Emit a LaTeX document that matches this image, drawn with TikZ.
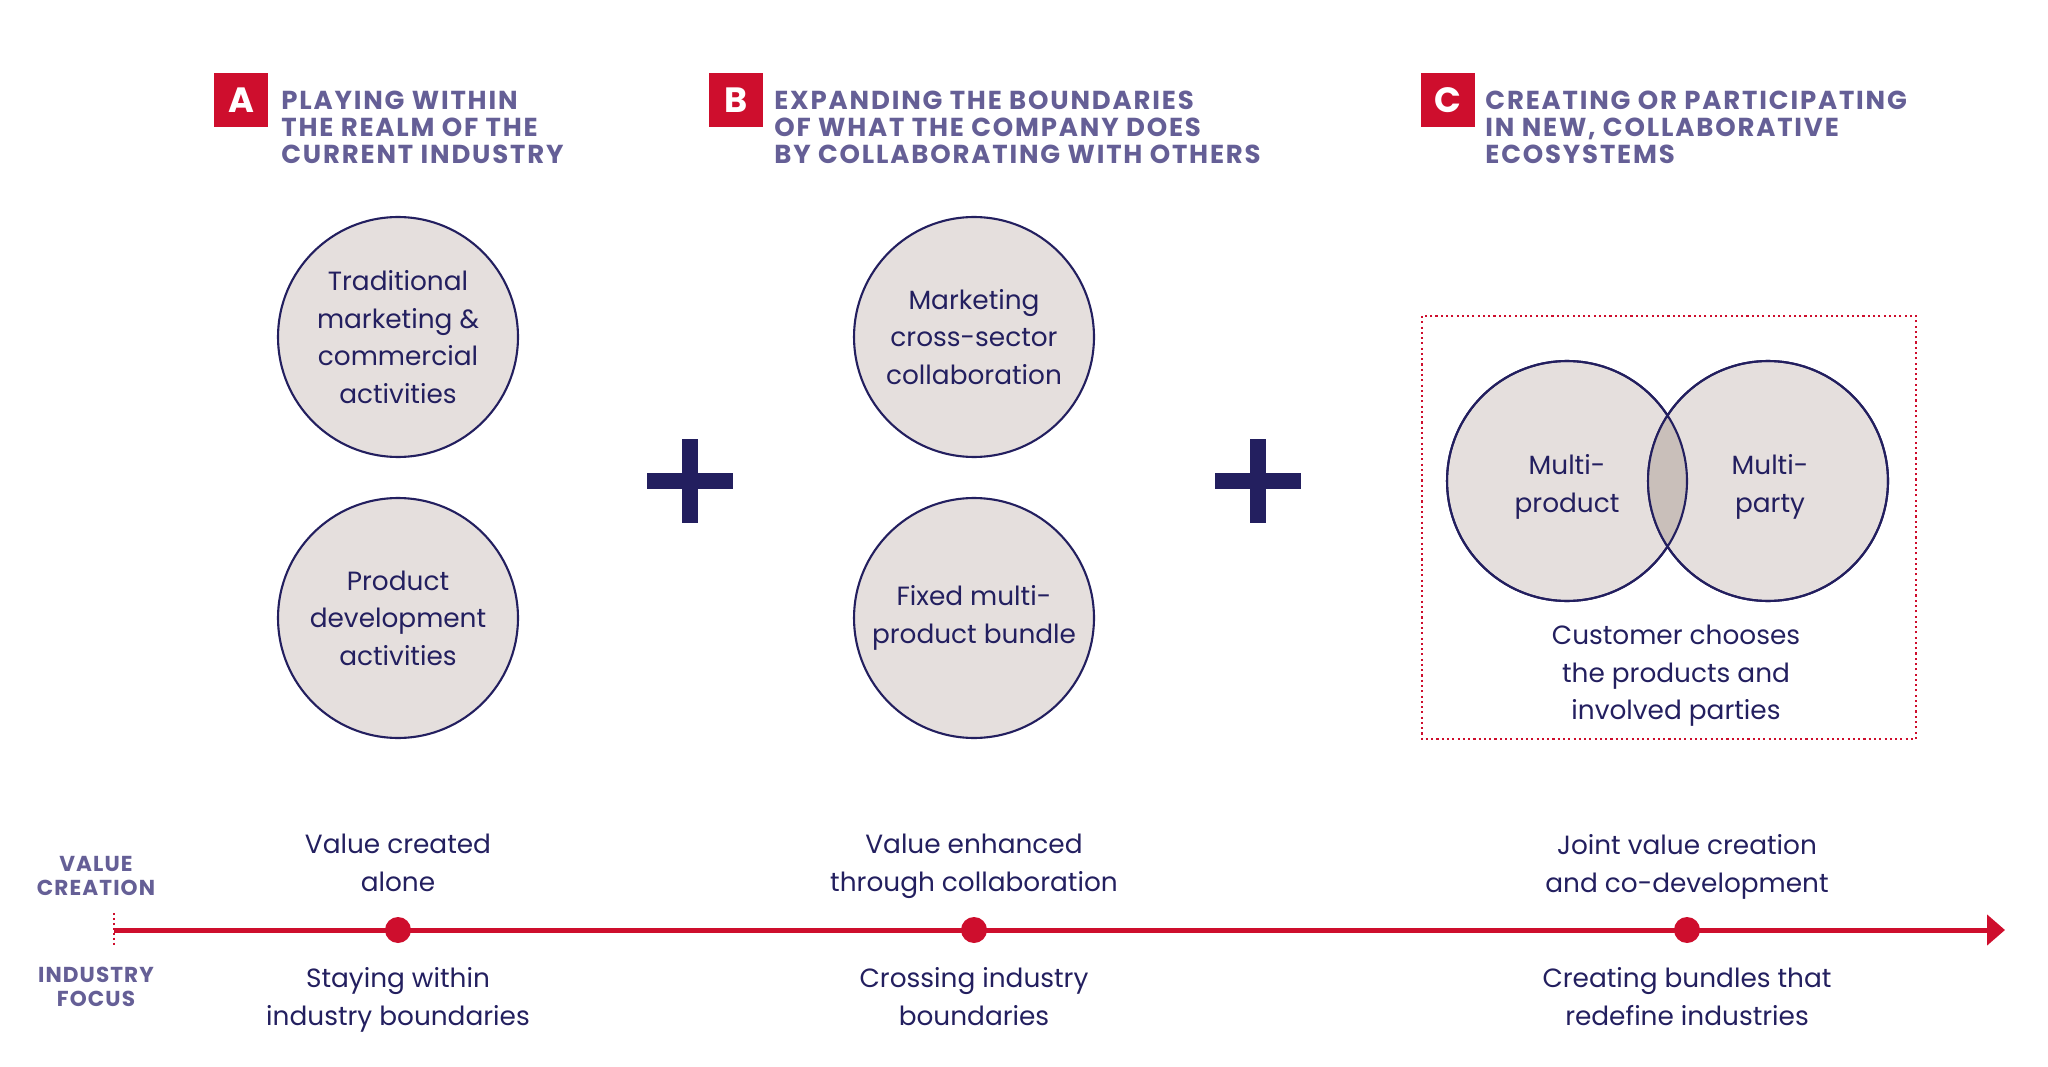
\documentclass[tikz,border=0pt]{standalone}
\usepackage{fontspec}
\setmainfont{Poppins}
\usetikzlibrary{arrows.meta,positioning}

\definecolor{navy}{HTML}{231F5F}
\definecolor{headpurple}{HTML}{655F96}
\definecolor{bubblefill}{HTML}{E5DFDD}
\definecolor{overlapfill}{HTML}{C9BFBA}
\definecolor{accent}{HTML}{CE0E2D}

\newcommand{\txtbody}{\fontsize{15}{21.4}\selectfont}
\newcommand{\txthead}{\fontsize{14.8}{15.2}\selectfont\bfseries\addfontfeatures{LetterSpace=7}}
\newcommand{\txtaxis}{\fontsize{12.3}{13.7}\selectfont\bfseries\addfontfeatures{LetterSpace=5}}

\tikzset{
  bubble/.style={circle, draw=navy, line width=1.2pt, fill=bubblefill,
    minimum size=4.8cm, inner sep=0pt, align=center, text=navy, font=\txtbody},
  letterbox/.style={fill=accent, text=white, minimum size=1.08cm, inner sep=0pt,
    font=\fontsize{20}{20}\selectfont\bfseries},
  headtext/.style={anchor=north west, inner sep=0pt, align=left, text=headpurple, font=\txthead},
  bodytext/.style={inner sep=0pt, align=center, text=navy, font=\txtbody},
  axistext/.style={inner sep=0pt, align=center, text=headpurple, font=\txtaxis},
  stagedot/.style={circle, fill=accent, minimum size=0.52cm, inner sep=0pt},
  timeline/.style={accent, line width=2.85pt, -{Triangle[length=0.36cm, width=0.6cm]}},
}

\begin{document}
\begin{tikzpicture}[x=0.02cm, y=-0.02cm]
  \useasboundingbox (0,0) rectangle (2048,1067);

  % headings
  \node[letterbox] (boxA) at (241,100) {A};
  \node[headtext] (headA) at (281,91) {PLAYING WITHIN\\THE REALM OF THE\\CURRENT INDUSTRY};
  \node[letterbox] (boxB) at (736,100) {B};
  \node[headtext] (headB) at (774,91) {EXPANDING THE BOUNDARIES\\OF WHAT THE COMPANY DOES\\BY COLLABORATING WITH OTHERS};
  \node[letterbox] (boxC) at (1448,100) {C};
  \node[headtext] (headC) at (1485,91) {CREATING OR PARTICIPATING\\IN NEW, COLLABORATIVE\\ECOSYSTEMS};

  % column A
  \node[bubble] (trad) at (398,337) {Traditional\\marketing \&\\commercial\\activities};
  \node[bubble] (prod) at (398,618) {Product\\development\\activities};

  % column B
  \node[bubble] (cross) at (974,337) {Marketing\\cross-sector\\collaboration};
  \node[bubble] (bundle) at (974,618) {Fixed multi-\\product bundle};

  % plus signs
  \foreach \px in {690,1258}{
    \fill[navy] (\px,481) ++(-43,-8) rectangle ++(86,16);
    \fill[navy] (\px,481) ++(-8,-42) rectangle ++(16,84);
  }

  % column C: ecosystem venn
  \draw[accent, line width=1.2pt, dash pattern=on 1.2pt off 1.8pt] (1422,316) rectangle (1916,739);
  \node[bubble] (vennL) at (1567,481) {};
  \node[bubble] (vennR) at (1768,481) {};
  \begin{scope}
    \clip (vennL.center) circle (2.4cm);
    \fill[overlapfill] (vennR.center) circle (2.4cm);
  \end{scope}
  \draw[navy, line width=1.2pt] (vennL.center) circle (2.4cm) (vennR.center) circle (2.4cm);
  \node[bodytext] (multiprod) at (1567,487) {Multi-\\product};
  \node[bodytext] (multiparty) at (1770,487) {Multi-\\party};
  \node[bodytext] (chooses) at (1676,676) {Customer chooses\\the products and\\involved parties};

  % timeline
  \coordinate (tlstart) at (114,930);
  \coordinate (tlend) at (2005,930);
  \draw[accent, line width=1.2pt, dash pattern=on 1.2pt off 1.6pt] (114,913) -- (114,947);
  \draw[timeline] (tlstart) -- (tlend);
  \node[stagedot] (dotA) at (398,930) {};
  \node[stagedot] (dotB) at (974,930) {};
  \node[stagedot] (dotC) at (1687,930) {};

  \node[axistext] (valcre) at (96,876) {VALUE\\CREATION};
  \node[axistext] (indfoc) at (96,987) {INDUSTRY\\FOCUS};

  \node[bodytext, anchor=north] (valA) at (398,834) {Value created\\alone};
  \node[bodytext, anchor=north] (valB) at (974,834) {Value enhanced\\through collaboration};
  \node[bodytext, anchor=north] (valC) at (1687,834) {Joint value creation\\and co-development};

  \node[bodytext, anchor=north] (focA) at (398,967) {Staying within\\industry boundaries};
  \node[bodytext, anchor=north] (focB) at (974,967) {Crossing industry\\boundaries};
  \node[bodytext, anchor=north] (focC) at (1687,967) {Creating bundles that\\redefine industries};
\end{tikzpicture}
\end{document}
